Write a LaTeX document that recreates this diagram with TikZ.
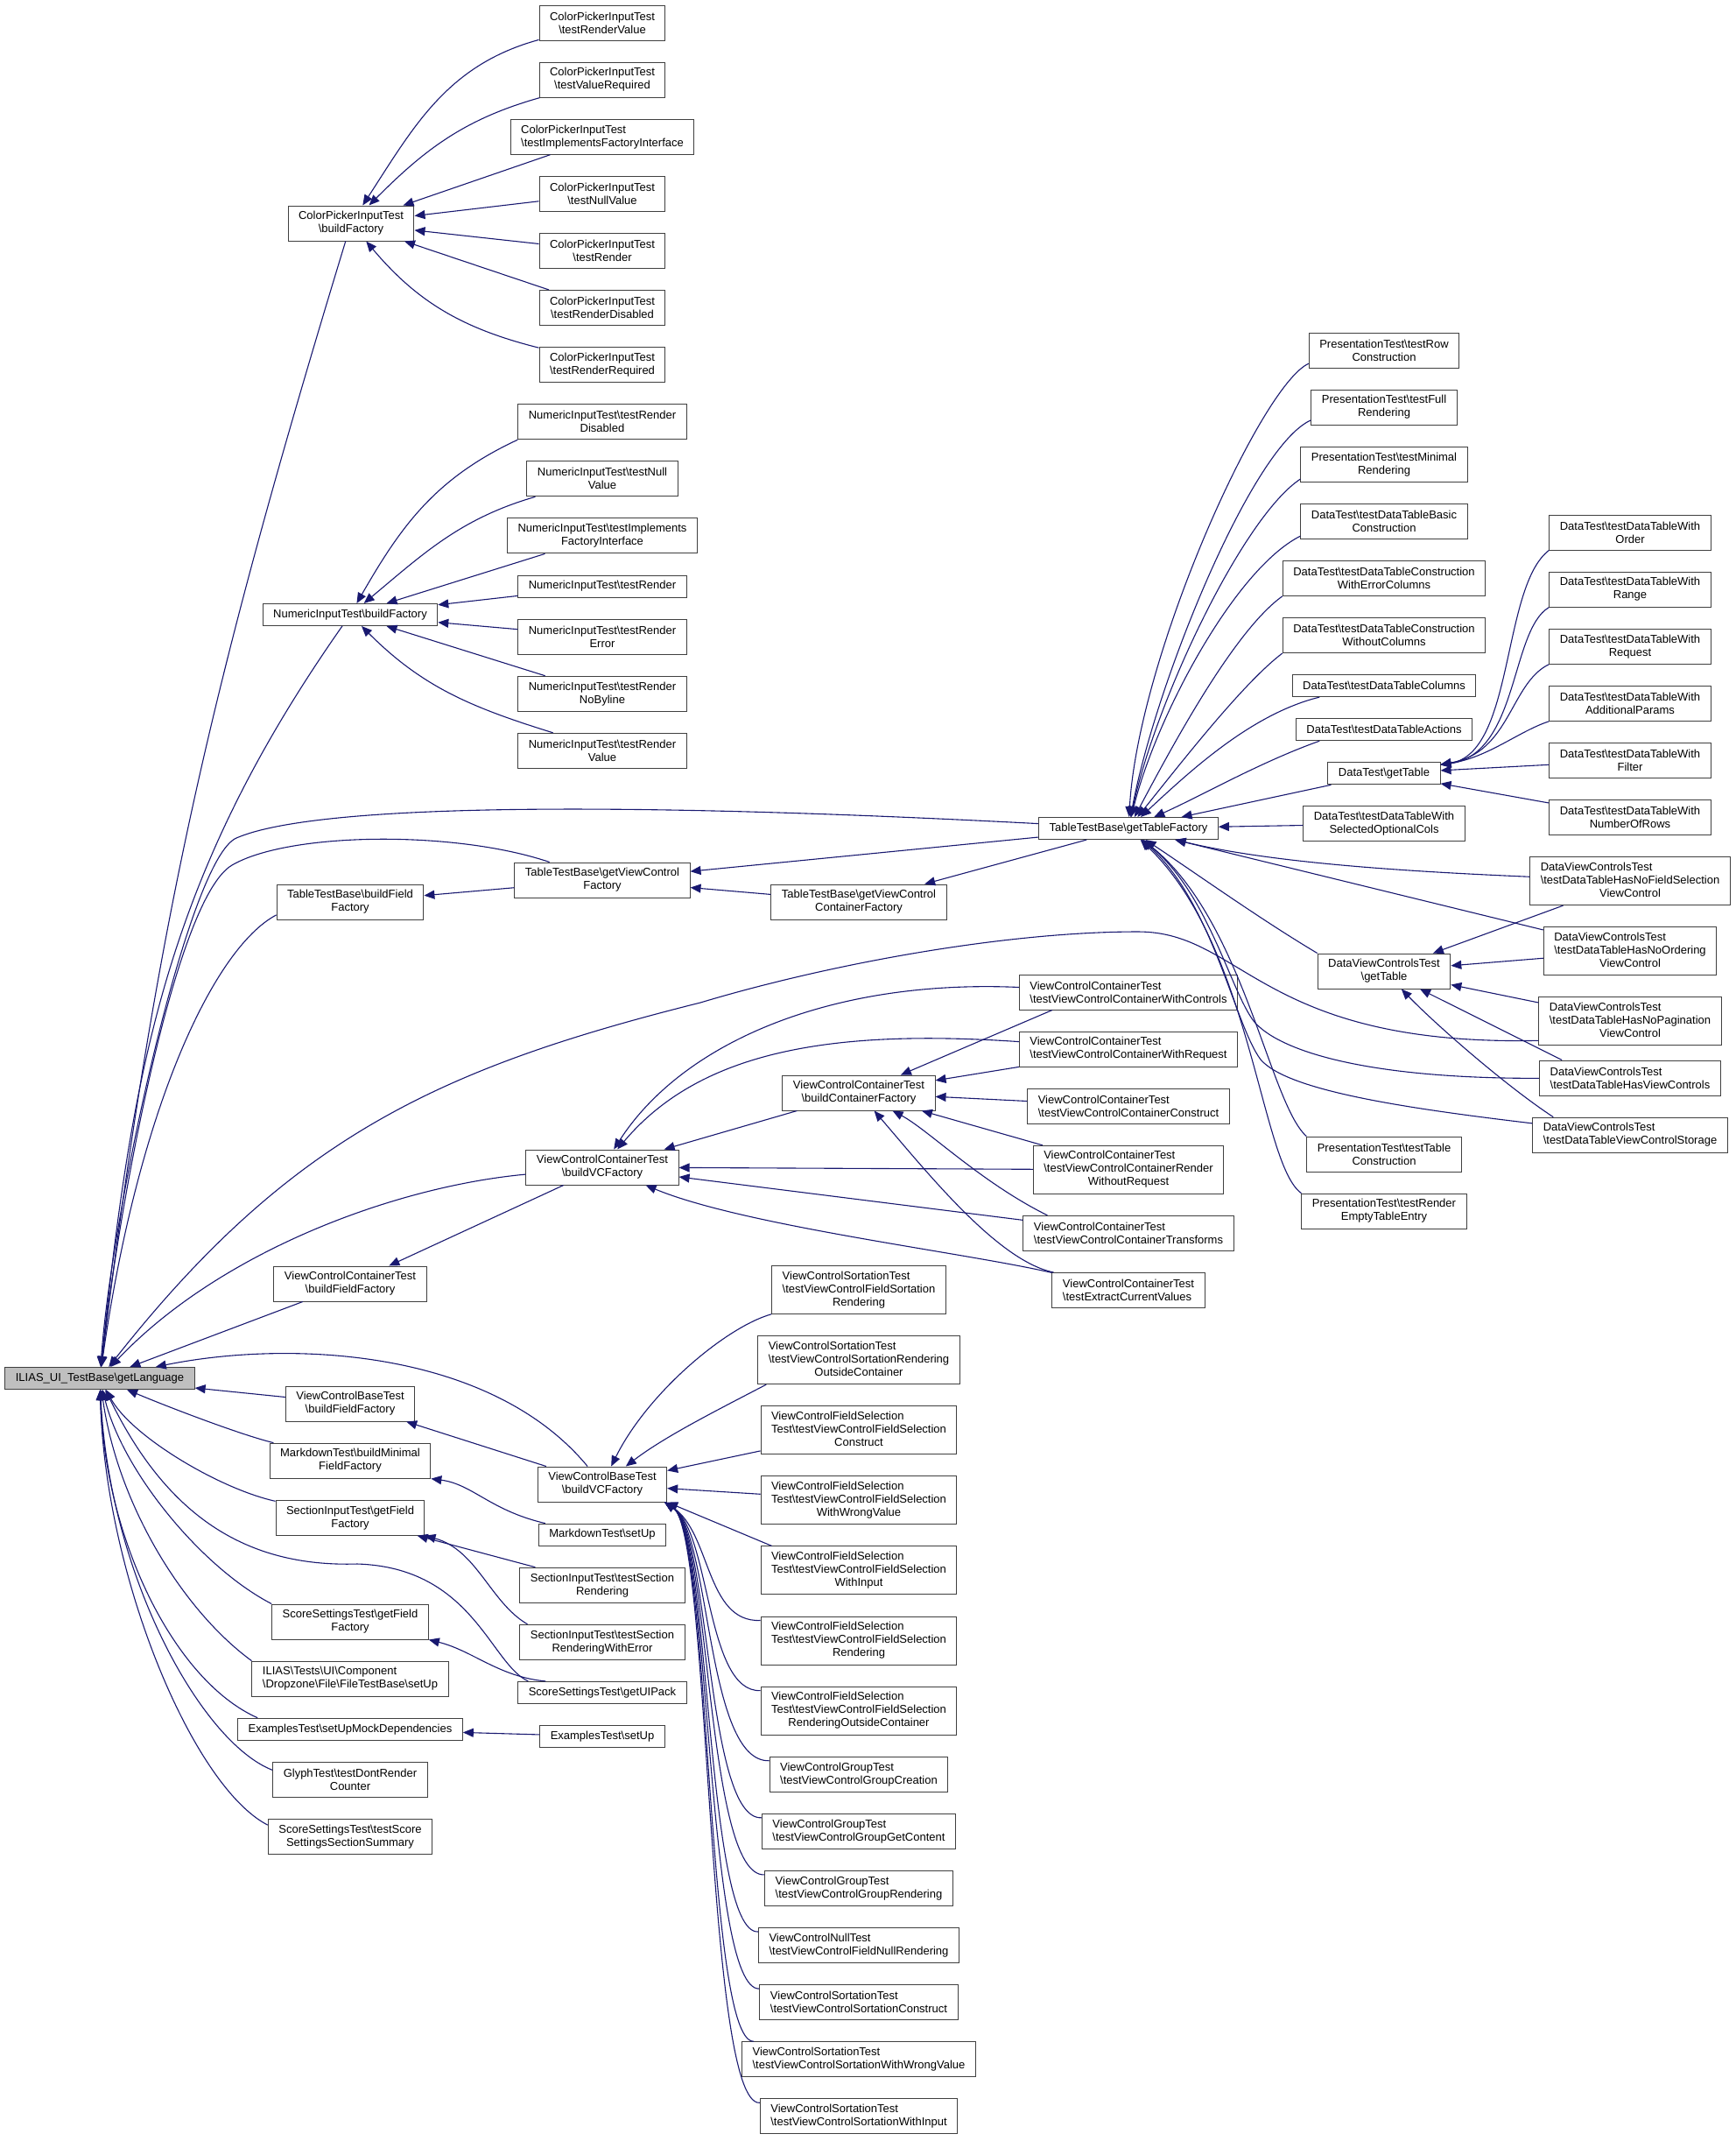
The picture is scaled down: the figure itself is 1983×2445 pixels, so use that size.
\documentclass[tikz,border=0pt]{standalone}
\usepackage{fontspec}
\setmainfont{Liberation Sans}
\usetikzlibrary{positioning,arrows.meta}

\definecolor{nblue}{RGB}{25,25,112}
\newcommand{\bsl}{\textbackslash}
\newcommand{\mixl}[3]{\begin{tabular}{@{}l@{}}#1\\#2\\\multicolumn{1}{@{}c@{}}{#3}\end{tabular}}

\tikzset{
  fn/.style={draw=black!75, line width=1pt, fill=white, align=center,
    font=\fontsize{13}{15}\selectfont, inner xsep=12pt, inner ysep=5pt,
    minimum height=25pt},
  two/.style={minimum height=40pt},
  three/.style={minimum height=55pt},
  lft/.style={align=left},
  cl/.style={color=nblue, line width=1.1pt, -{Triangle[length=12pt,width=10pt]}}
}

\begin{document}
\begin{tikzpicture}[x=1pt, y=1pt, node distance=24.1pt]
  \useasboundingbox (0,0) rectangle (1983,-2445);

  \node[fn, fill=black!25] (gl) at (114,-1574) {ILIAS\_UI\_TestBase\bsl getLanguage};

  % second column
  \node[fn,two] (cpib) at (401,-255) {ColorPickerInputTest\\\bsl buildFactory};
  \node[fn] (nib) at (400,-702) {NumericInputTest\bsl buildFactory};
  \node[fn,two] (tbf) at (400,-1030) {TableTestBase\bsl buildField\\Factory};
  \node[fn,two] (vcbf) at (400,-1466) {ViewControlContainerTest\\\bsl buildFieldFactory};
  \node[fn,two] (vbbf) at (400,-1603) {ViewControlBaseTest\\\bsl buildFieldFactory};
  \node[fn,two, below=of vbbf] (mdb) {MarkdownTest\bsl buildMinimal\\FieldFactory};
  \node[fn,two, below=of mdb] (sib) {SectionInputTest\bsl getField\\Factory};
  \node[fn,two] (ssf) at (400,-1852) {ScoreSettingsTest\bsl getField\\Factory};
  \node[fn,two,lft, below=of ssf] (fts) {ILIAS\bsl Tests\bsl UI\bsl Component\\\bsl Dropzone\bsl File\bsl FileTestBase\bsl setUp};
  \node[fn, below=of fts] (exm) {ExamplesTest\bsl setUpMockDependencies};
  \node[fn,two, below=of exm] (gly) {GlyphTest\bsl testDontRender\\Counter};
  \node[fn,two, below=of gly] (sst) {ScoreSettingsTest\bsl testScore\\SettingsSectionSummary};

  % third column
  \node[fn,two] (cr1) at (688,-26) {ColorPickerInputTest\\\bsl testRenderValue};
  \node[fn,two, below=of cr1] (cr2) {ColorPickerInputTest\\\bsl testValueRequired};
  \node[fn,two,lft, below=of cr2] (cr3) {ColorPickerInputTest\\\bsl testImplementsFactoryInterface};
  \node[fn,two, below=of cr3] (cr4) {ColorPickerInputTest\\\bsl testNullValue};
  \node[fn,two, below=of cr4] (cr5) {ColorPickerInputTest\\\bsl testRender};
  \node[fn,two, below=of cr5] (cr6) {ColorPickerInputTest\\\bsl testRenderDisabled};
  \node[fn,two, below=of cr6] (cr7) {ColorPickerInputTest\\\bsl testRenderRequired};
  \node[fn,two, below=of cr7] (nd1) {NumericInputTest\bsl testRender\\Disabled};
  \node[fn,two, below=of nd1] (nd2) {NumericInputTest\bsl testNull\\Value};
  \node[fn,two, below=of nd2] (nd3) {NumericInputTest\bsl testImplements\\FactoryInterface};
  \node[fn, below=of nd3] (nd4) {NumericInputTest\bsl testRender};
  \node[fn,two, below=of nd4] (nd5) {NumericInputTest\bsl testRender\\Error};
  \node[fn,two, below=of nd5] (nd6) {NumericInputTest\bsl testRender\\NoByline};
  \node[fn,two, below=of nd6] (nd7) {NumericInputTest\bsl testRender\\Value};
  \node[fn,two] (tvf) at (688,-1005) {TableTestBase\bsl getViewControl\\Factory};
  \node[fn,two] (vcvf) at (688,-1333) {ViewControlContainerTest\\\bsl buildVCFactory};
  \node[fn,two] (vbvf) at (688,-1695) {ViewControlBaseTest\\\bsl buildVCFactory};
  \node[fn, below=of vbvf] (mds) {MarkdownTest\bsl setUp};
  \node[fn,two, below=of mds] (sr1) {SectionInputTest\bsl testSection\\Rendering};
  \node[fn,two, below=of sr1] (sr2) {SectionInputTest\bsl testSection\\RenderingWithError};
  \node[fn, below=of sr2] (ssu) {ScoreSettingsTest\bsl getUIPack};
  \node[fn, below=of ssu] (exs) {ExamplesTest\bsl setUp};

  % fourth column
  \node[fn,two] (tvcf) at (981,-1030) {TableTestBase\bsl getViewControl\\ContainerFactory};
  \node[fn,two] (vccf) at (981,-1248) {ViewControlContainerTest\\\bsl buildContainerFactory};
  \node[fn,three] (vs1) at (981,-1473) {\mixl{ViewControlSortationTest}{\bsl testViewControlFieldSortation}{Rendering}};
  \node[fn,three, below=of vs1] (vs2) {\mixl{ViewControlSortationTest}{\bsl testViewControlSortationRendering}{OutsideContainer}};
  \node[fn,three, below=of vs2] (fs1) {\mixl{ViewControlFieldSelection}{Test\bsl testViewControlFieldSelection}{Construct}};
  \node[fn,three, below=of fs1] (fs2) {\mixl{ViewControlFieldSelection}{Test\bsl testViewControlFieldSelection}{WithWrongValue}};
  \node[fn,three, below=of fs2] (fs3) {\mixl{ViewControlFieldSelection}{Test\bsl testViewControlFieldSelection}{WithInput}};
  \node[fn,three, below=of fs3] (fs4) {\mixl{ViewControlFieldSelection}{Test\bsl testViewControlFieldSelection}{Rendering}};
  \node[fn,three, below=of fs4] (fs5) {\mixl{ViewControlFieldSelection}{Test\bsl testViewControlFieldSelection}{RenderingOutsideContainer}};
  \node[fn,two,lft, below=of fs5] (vg1) {ViewControlGroupTest\\\bsl testViewControlGroupCreation};
  \node[fn,two,lft, below=of vg1] (vg2) {ViewControlGroupTest\\\bsl testViewControlGroupGetContent};
  \node[fn,two,lft, below=of vg2] (vg3) {ViewControlGroupTest\\\bsl testViewControlGroupRendering};
  \node[fn,two,lft, below=of vg3] (vn) {ViewControlNullTest\\\bsl testViewControlFieldNullRendering};
  \node[fn,two,lft, below=of vn] (vs3) {ViewControlSortationTest\\\bsl testViewControlSortationConstruct};
  \node[fn,two,lft, below=of vs3] (vs4) {ViewControlSortationTest\\\bsl testViewControlSortationWithWrongValue};
  \node[fn,two,lft, below=of vs4] (vs5) {ViewControlSortationTest\\\bsl testViewControlSortationWithInput};

  % fifth column
  \node[fn] (ttf) at (1289,-946) {TableTestBase\bsl getTableFactory};
  \node[fn,two,lft] (cc1) at (1289,-1133) {ViewControlContainerTest\\\bsl testViewControlContainerWithControls};
  \node[fn,two,lft, below=of cc1] (cc2) {ViewControlContainerTest\\\bsl testViewControlContainerWithRequest};
  \node[fn,two,lft, below=of cc2] (cc3) {ViewControlContainerTest\\\bsl testViewControlContainerConstruct};
  \node[fn,three, below=of cc3] (cc4) {\mixl{ViewControlContainerTest}{\bsl testViewControlContainerRender}{WithoutRequest}};
  \node[fn,two,lft, below=of cc4] (cc5) {ViewControlContainerTest\\\bsl testViewControlContainerTransforms};
  \node[fn,two,lft, below=of cc5] (cc6) {ViewControlContainerTest\\\bsl testExtractCurrentValues};

  % sixth column
  \node[fn,two] (pr1) at (1581,-400) {PresentationTest\bsl testRow\\Construction};
  \node[fn,two, below=of pr1] (pr2) {PresentationTest\bsl testFull\\Rendering};
  \node[fn,two, below=of pr2] (pr3) {PresentationTest\bsl testMinimal\\Rendering};
  \node[fn,two, below=of pr3] (dt1) {DataTest\bsl testDataTableBasic\\Construction};
  \node[fn,two, below=of dt1] (dt2) {DataTest\bsl testDataTableConstruction\\WithErrorColumns};
  \node[fn,two, below=of dt2] (dt3) {DataTest\bsl testDataTableConstruction\\WithoutColumns};
  \node[fn, below=of dt3] (dt4) {DataTest\bsl testDataTableColumns};
  \node[fn, below=of dt4] (dt5) {DataTest\bsl testDataTableActions};
  \node[fn, below=of dt5] (dtg) {DataTest\bsl getTable};
  \node[fn,two, below=of dtg] (dto) {DataTest\bsl testDataTableWith\\SelectedOptionalCols};
  \node[fn,two] (dvg) at (1581,-1109) {DataViewControlsTest\\\bsl getTable};
  \node[fn,two] (pr4) at (1581,-1318) {PresentationTest\bsl testTable\\Construction};
  \node[fn,two, below=of pr4] (pr5) {PresentationTest\bsl testRender\\EmptyTableEntry};

  % seventh column
  \node[fn,two] (dw1) at (1862,-608) {DataTest\bsl testDataTableWith\\Order};
  \node[fn,two, below=of dw1] (dw2) {DataTest\bsl testDataTableWith\\Range};
  \node[fn,two, below=of dw2] (dw3) {DataTest\bsl testDataTableWith\\Request};
  \node[fn,two, below=of dw3] (dw4) {DataTest\bsl testDataTableWith\\AdditionalParams};
  \node[fn,two, below=of dw4] (dw5) {DataTest\bsl testDataTableWith\\Filter};
  \node[fn,two, below=of dw5] (dw6) {DataTest\bsl testDataTableWith\\NumberOfRows};
  \node[fn,three, below=of dw6] (dv1) {\mixl{DataViewControlsTest}{\bsl testDataTableHasNoFieldSelection}{ViewControl}};
  \node[fn,three, below=of dv1] (dv2) {\mixl{DataViewControlsTest}{\bsl testDataTableHasNoOrdering}{ViewControl}};
  \node[fn,three, below=of dv2] (dv3) {\mixl{DataViewControlsTest}{\bsl testDataTableHasNoPagination}{ViewControl}};
  \node[fn,two,lft] (dv4) at (1862,-1231) {DataViewControlsTest\\\bsl testDataTableHasViewControls};
  \node[fn,two,lft, below=of dv4] (dv5) {DataViewControlsTest\\\bsl testDataTableViewControlStorage};

  % callers of getLanguage
  \draw[cl] (cpib) .. controls (245,-767) and (178,-1050) .. (gl);
  \draw[cl] (nib) .. controls (191,-1000) and (151,-1215) .. (gl);
  \path[cl]
    (vcbf) edge (gl)
    (vbbf) edge (gl);
  \draw[cl] (ttf) .. controls (700,-915) and (360,-918) .. (270,-957)
    .. controls (215,-981) and (128,-1380) .. (gl);
  \draw[cl] (tvf) .. controls (520,-948) and (330,-950) .. (265,-988)
    .. controls (200,-1026) and (135,-1380) .. (gl);
  \draw[cl] (tbf.190) .. controls (245,-1082) and (158,-1264) .. (gl);
  \draw[cl] ([yshift=6pt]dv3.south west) .. controls (1440,-1195) and (1420,-1064) .. (1300,-1064)
    .. controls (1150,-1064) and (950,-1100) .. (800,-1145)
    .. controls (500,-1220) and (330,-1300) .. (gl);
  \draw[cl] (vcvf) .. controls (450,-1355) and (250,-1430) .. (gl);
  \draw[cl] (vbvf) .. controls (560,-1540) and (330,-1530) .. (gl);
  \draw[cl] (mdb) .. controls (280,-1640) and (200,-1610) .. (gl);
  \draw[cl] (sib) .. controls (250,-1700) and (150,-1640) .. (gl);
  \draw[cl] ([xshift=12pt]ssu.north west) .. controls (560,-1900) and (540,-1790) .. (408,-1786)
    .. controls (280,-1790) and (190,-1730) .. (gl);
  \draw[cl] (ssf.north west) .. controls (230,-1790) and (140,-1680) .. (gl);
  \draw[cl] (fts.north west) .. controls (210,-1840) and (135,-1720) .. (gl);
  \draw[cl] ([xshift=23pt]exm.north west) .. controls (200,-1920) and (120,-1760) .. (gl);
  \draw[cl] (gly.173) .. controls (230,-1990) and (125,-1800) .. (gl);
  \draw[cl] (sst.172) .. controls (220,-2040) and (120,-1800) .. (gl);

  % buildFactory callers
  \draw[cl] (cr1.195) .. controls (511,-74) and (473,-144) .. (cpib);
  \draw[cl] (cr2.196) .. controls (530,-136) and (485,-171) .. (cpib);
  \draw[cl] (cr7.165) .. controls (527,-375) and (476,-344) .. (cpib);
  \path[cl]
    (cr3) edge (cpib)
    (cr4) edge (cpib)
    (cr5) edge (cpib)
    (cr6) edge (cpib);
  \draw[cl] (nd1.south west) .. controls (497,-546) and (458,-601) .. (nib);
  \draw[cl] (nd2.195) .. controls (526,-592) and (484,-632) .. (nib);
  \draw[cl] (nd7.160) .. controls (539,-808) and (483,-785) .. (nib);
  \path[cl]
    (nd3) edge (nib)
    (nd4) edge (nib)
    (nd5) edge (nib)
    (nd6) edge (nib);

  % factories
  \path[cl]
    (tvf) edge (tbf)
    (ttf) edge (tvf)
    (tvcf) edge (tvf)
    (ttf) edge (tvcf)
    (vcvf) edge (vcbf)
    (vbvf) edge (vbbf)
    (sr1) edge (sib)
    (exs) edge (exm);
  \draw[cl] ([xshift=8pt]mds.north west) .. controls (560,-1725) and (540,-1695) .. (mdb.south east);
  \draw[cl] ([xshift=9pt]sr2.north west) .. controls (560,-1830) and (545,-1770) .. (sib.south east);
  \draw[cl] ([xshift=32pt]ssu.north west) .. controls (570,-1915) and (540,-1885) .. (ssf.south east);

  % getTableFactory callers
  \draw[cl] (pr1.190) .. controls (1440,-440) and (1300,-750) .. (ttf);
  \draw[cl] (pr2.190) .. controls (1430,-510) and (1320,-780) .. (ttf);
  \draw[cl] (pr3.190) .. controls (1420,-590) and (1320,-800) .. (ttf);
  \draw[cl] (dt1.190) .. controls (1410,-650) and (1320,-820) .. (ttf);
  \draw[cl] (dt2.190) .. controls (1410,-720) and (1340,-850) .. (ttf);
  \draw[cl] (dt3.190) .. controls (1420,-780) and (1350,-870) .. (ttf);
  \draw[cl] (dt4.190) .. controls (1430,-815) and (1360,-880) .. (ttf);
  \draw[cl] (dt5.190) .. controls (1440,-870) and (1370,-910) .. (ttf);
  \path[cl]
    (dtg) edge (ttf)
    (dto) edge (ttf)
    (dv2) edge (ttf);
  \draw[cl] (dv1) .. controls (1600,-995) and (1450,-985) .. (ttf);
  \draw[cl] (dvg.north west) .. controls (1440,-1050) and (1370,-1000) .. (ttf);
  \draw[cl] (dv4) .. controls (1560,-1232) and (1460,-1200) .. (1432,-1166)
    .. controls (1405,-1130) and (1380,-1020) .. (ttf);
  \draw[cl] (dv5) .. controls (1600,-1265) and (1470,-1245) .. (1440,-1210)
    .. controls (1410,-1170) and (1385,-1030) .. (ttf);
  \draw[cl] (pr4.north west) .. controls (1450,-1260) and (1420,-1050) .. (ttf);
  \draw[cl] (pr5.north west) .. controls (1440,-1330) and (1430,-1080) .. (ttf);

  % getTable callers
  \draw[cl] (dw1.south west) .. controls (1715,-670) and (1730,-860) .. (dtg);
  \draw[cl] (dw2.south west) .. controls (1725,-720) and (1735,-860) .. (dtg);
  \draw[cl] (dw3.south west) .. controls (1725,-780) and (1725,-860) .. (dtg);
  \draw[cl] (dw4.south west) .. controls (1735,-835) and (1700,-865) .. (dtg);
  \path[cl]
    (dw5) edge (dtg)
    (dw6) edge (dtg)
    (dv1) edge (dvg)
    (dv2) edge (dvg)
    (dv3) edge (dvg);
  \draw[cl] ([xshift=26pt]dv4.north west) -- (dvg);
  \draw[cl] ([xshift=24pt]dv5.north west) .. controls (1720,-1240) and (1640,-1170) .. (dvg);

  % container tests
  \draw[cl] (cc1) .. controls (950,-1118) and (780,-1190) .. (vcvf);
  \draw[cl] (cc2) .. controls (950,-1175) and (800,-1200) .. (vcvf);
  \draw[cl] (cc6) .. controls (1100,-1430) and (850,-1400) .. (vcvf);
  \path[cl]
    (vccf) edge (vcvf)
    (cc4) edge (vcvf)
    (cc5) edge (vcvf)
    (cc2) edge (vccf)
    (cc3) edge (vccf)
    (cc4) edge (vccf);
  \draw[cl] ([xshift=38pt]cc1.south west) -- (vccf);
  \draw[cl] ([xshift=28pt]cc5.north west) .. controls (1120,-1350) and (1060,-1290) .. (vccf);
  \draw[cl] ([xshift=2pt]cc6.north west) .. controls (1140,-1440) and (1060,-1340) .. (vccf);

  % base test callers
  \draw[cl] (vs1) .. controls (830,-1515) and (740,-1590) .. (vbvf);
  \draw[cl] ([xshift=10pt]vs2.south west) .. controls (820,-1610) and (760,-1640) .. (vbvf);
  \path[cl]
    (fs1) edge (vbvf)
    (fs2) edge (vbvf);
  \draw[cl] ([xshift=13pt]fs3.north west) -- (vbvf.south east);
  \draw[cl] ([yshift=-5pt]fs4.north west) .. controls (806,-1853) and (812,-1750) .. ([xshift=-3pt]vbvf.south east);
  \draw[cl] ([yshift=-5pt]fs5.north west) .. controls (806,-1933) and (812,-1750) .. ([xshift=-3pt]vbvf.south east);
  \draw[cl] ([yshift=-5pt]vg1.north west) .. controls (806,-2013) and (812,-1750) .. ([xshift=-3pt]vbvf.south east);
  \draw[cl] ([yshift=-5pt]vg2.north west) .. controls (806,-2079) and (812,-1750) .. ([xshift=-3pt]vbvf.south east);
  \draw[cl] ([yshift=-5pt]vg3.north west) .. controls (806,-2144) and (812,-1750) .. ([xshift=-3pt]vbvf.south east);
  \draw[cl] ([yshift=-5pt]vn.north west) .. controls (806,-2209) and (812,-1750) .. ([xshift=-3pt]vbvf.south east);
  \draw[cl] ([yshift=-5pt]vs3.north west) .. controls (806,-2274) and (812,-1750) .. ([xshift=-3pt]vbvf.south east);
  \draw[cl] ([xshift=14pt]vs4.north west) .. controls (806,-2334) and (812,-1750) .. ([xshift=-3pt]vbvf.south east);
  \draw[cl] ([yshift=-5pt]vs5.north west) .. controls (806,-2405) and (812,-1750) .. ([xshift=-3pt]vbvf.south east);
\end{tikzpicture}
\end{document}
